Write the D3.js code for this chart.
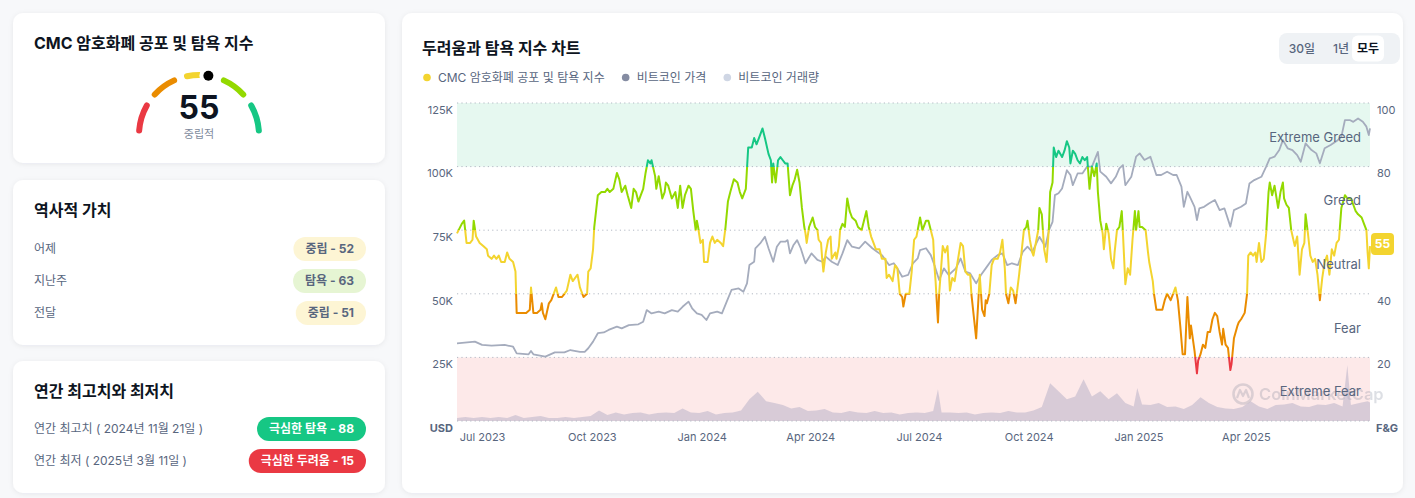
<!DOCTYPE html>
<html><head><meta charset="utf-8">
<script src="https://cdn.jsdelivr.net/npm/d3@7"></script>
<style>
html,body{margin:0;padding:0;background:#f7f8fa;}
svg{display:block;font-family:Inter,"Noto Sans CJK KR","Noto Sans",sans-serif;}
</style></head><body>
<svg id="c" width="1415" height="498"></svg>
<script>
// ---------- DATA ----------
const zoneNames = ["Extreme Fear","Fear","Neutral","Greed","Extreme Greed"];
const zoneBreaks = [0,20,40,60,80,100];
const zoneColors = ["#ea3943","#ea8c00","#f3d42f","#93d900","#16c784"];
const currentValue = 55;
const currentLabel = "중립적";
const historyLabels = ["어제","지난주","전달"];
const historyTexts = ["중립 - 52","탐욕 - 63","중립 - 51"];
const historyValues = [52,63,51];
const yearlyLabels = ["연간 최고치 ( 2024년 11월 21일 )","연간 최저 ( 2025년 3월 11일 )"];
const yearlyTexts = ["극심한 탐욕 - 88","극심한 두려움 - 15"];
const yearlyValues = [88,15];
const usdTicks = [25000,50000,75000,100000,125000];
const fgTicks = [20,40,80,100];   // 60 is hidden behind the current-value badge
const gridValues = [0,20,40,60,80,100];
const xTickDates = ["2023-07-01","2023-10-01","2024-01-01","2024-04-01","2024-07-01","2024-10-01","2025-01-01","2025-04-01"];
const legendItems = ["CMC 암호화폐 공포 및 탐욕 지수","비트코인 가격","비트코인 거래량"];
const rangeButtons = ["30일","1년","모두"];

// Fear & Greed index [date, value]
const fearGreed = [["2023-06-10",59],["2023-06-14",62],["2023-06-16",63],["2023-06-18",56],["2023-06-21",56],["2023-06-23",57],["2023-06-24",63],["2023-06-26",58],["2023-06-29",56],["2023-07-02",55],["2023-07-05",54],["2023-07-06",52],["2023-07-09",51],["2023-07-11",52],["2023-07-13",51],["2023-07-15",52],["2023-07-17",50],["2023-07-20",50],["2023-07-22",53],["2023-07-24",51],["2023-07-27",50],["2023-07-29",47],["2023-07-30",34],["2023-08-02",34],["2023-08-05",34],["2023-08-07",34],["2023-08-10",35],["2023-08-11",42],["2023-08-13",34],["2023-08-16",34],["2023-08-19",35],["2023-08-20",37],["2023-08-21",34],["2023-08-23",32],["2023-08-26",37],["2023-08-28",38],["2023-08-30",40],["2023-09-01",42],["2023-09-03",39],["2023-09-06",39],["2023-09-08",40],["2023-09-10",41],["2023-09-13",46],["2023-09-15",44],["2023-09-17",45],["2023-09-19",46],["2023-09-21",42],["2023-09-24",39],["2023-09-27",40],["2023-09-28",47],["2023-09-30",48],["2023-10-02",54],["2023-10-03",61],["2023-10-06",71],["2023-10-09",72],["2023-10-12",72],["2023-10-14",73],["2023-10-16",72],["2023-10-19",73],["2023-10-22",78],["2023-10-24",76],["2023-10-26",72],["2023-10-29",74],["2023-10-31",71],["2023-11-03",67],["2023-11-05",73],["2023-11-07",72],["2023-11-09",69],["2023-11-11",71],["2023-11-13",73],["2023-11-15",78],["2023-11-17",82],["2023-11-19",81],["2023-11-20",82],["2023-11-23",77],["2023-11-24",73],["2023-11-26",77],["2023-11-29",70],["2023-12-01",72],["2023-12-02",75],["2023-12-04",74],["2023-12-07",70],["2023-12-10",72],["2023-12-12",67],["2023-12-14",74],["2023-12-16",67],["2023-12-18",71],["2023-12-21",74],["2023-12-23",73],["2023-12-25",66],["2023-12-27",60],["2023-12-28",63],["2023-12-29",61],["2023-12-31",56],["2024-01-02",57],["2024-01-03",50],["2024-01-06",50],["2024-01-08",56],["2024-01-10",58],["2024-01-12",56],["2024-01-14",57],["2024-01-17",56],["2024-01-19",55],["2024-01-21",61],["2024-01-23",69],["2024-01-25",72],["2024-01-28",76],["2024-01-31",75],["2024-02-02",72],["2024-02-04",70],["2024-02-07",73],["2024-02-09",86],["2024-02-12",86],["2024-02-14",89],["2024-02-16",87],["2024-02-19",90],["2024-02-21",92],["2024-02-23",89],["2024-02-26",84],["2024-02-28",82],["2024-02-29",75],["2024-03-01",81],["2024-03-03",75],["2024-03-05",82],["2024-03-07",83],["2024-03-09",82],["2024-03-11",81],["2024-03-13",81],["2024-03-15",71],["2024-03-17",74],["2024-03-19",76],["2024-03-21",79],["2024-03-23",75],["2024-03-25",67],["2024-03-27",61],["2024-03-28",59],["2024-03-29",56],["2024-03-31",61],["2024-04-03",64],["2024-04-05",61],["2024-04-07",60],["2024-04-08",57],["2024-04-10",56],["2024-04-11",51],["2024-04-12",47],["2024-04-14",53],["2024-04-16",57],["2024-04-18",58],["2024-04-19",51],["2024-04-22",53],["2024-04-23",51],["2024-04-25",55],["2024-04-26",60],["2024-04-28",62],["2024-04-30",61],["2024-05-02",70],["2024-05-04",66],["2024-05-06",64],["2024-05-09",63],["2024-05-11",61],["2024-05-14",60],["2024-05-16",63],["2024-05-18",66],["2024-05-20",61],["2024-05-22",58],["2024-05-24",56],["2024-05-26",54],["2024-05-29",54],["2024-05-31",51],["2024-06-03",51],["2024-06-04",45],["2024-06-06",46],["2024-06-09",44],["2024-06-11",49],["2024-06-13",48],["2024-06-15",40],["2024-06-17",39],["2024-06-18",36],["2024-06-20",40],["2024-06-23",40],["2024-06-25",47],["2024-06-27",57],["2024-06-29",58],["2024-06-30",60],["2024-07-02",64],["2024-07-04",60],["2024-07-07",63],["2024-07-09",63],["2024-07-11",60],["2024-07-13",57],["2024-07-14",49],["2024-07-15",44],["2024-07-17",31],["2024-07-18",40],["2024-07-21",55],["2024-07-23",53],["2024-07-25",55],["2024-07-27",41],["2024-07-29",45],["2024-07-31",44],["2024-08-02",49],["2024-08-05",56],["2024-08-07",55],["2024-08-09",47],["2024-08-11",46],["2024-08-13",46],["2024-08-14",40],["2024-08-16",33],["2024-08-18",26],["2024-08-20",39],["2024-08-21",46],["2024-08-23",35],["2024-08-25",33],["2024-08-26",38],["2024-08-27",37],["2024-08-29",40],["2024-08-31",49],["2024-09-02",51],["2024-09-05",51],["2024-09-07",53],["2024-09-09",57],["2024-09-11",48],["2024-09-12",40],["2024-09-14",37],["2024-09-16",42],["2024-09-18",41],["2024-09-20",37],["2024-09-22",43],["2024-09-23",46],["2024-09-25",53],["2024-09-27",60],["2024-09-29",61],["2024-09-30",63],["2024-10-02",57],["2024-10-04",53],["2024-10-05",52],["2024-10-07",56],["2024-10-09",60],["2024-10-10",67],["2024-10-12",65],["2024-10-14",54],["2024-10-16",50],["2024-10-18",61],["2024-10-19",72],["2024-10-21",75],["2024-10-22",86],["2024-10-24",83],["2024-10-26",85],["2024-10-29",83],["2024-10-31",85],["2024-11-02",88],["2024-11-04",86],["2024-11-05",81],["2024-11-07",85],["2024-11-09",84],["2024-11-11",82],["2024-11-13",81],["2024-11-15",83],["2024-11-17",82],["2024-11-19",83],["2024-11-21",73],["2024-11-23",80],["2024-11-25",77],["2024-11-27",81],["2024-11-28",72],["2024-11-30",63],["2024-12-02",59],["2024-12-03",54],["2024-12-05",62],["2024-12-07",59],["2024-12-09",51],["2024-12-11",48],["2024-12-12",53],["2024-12-14",60],["2024-12-16",61],["2024-12-18",66],["2024-12-19",59],["2024-12-21",43],["2024-12-23",48],["2024-12-25",46],["2024-12-27",57],["2024-12-29",66],["2024-12-30",60],["2025-01-01",66],["2025-01-02",61],["2025-01-04",61],["2025-01-07",60],["2025-01-09",53],["2025-01-10",50],["2025-01-11",48],["2025-01-13",44],["2025-01-14",40],["2025-01-16",35],["2025-01-18",35],["2025-01-21",35],["2025-01-23",38],["2025-01-25",40],["2025-01-28",38],["2025-01-30",40],["2025-02-01",42],["2025-02-03",38],["2025-02-05",30],["2025-02-07",21],["2025-02-09",21],["2025-02-11",39],["2025-02-13",26],["2025-02-14",30],["2025-02-17",22],["2025-02-19",15],["2025-02-20",19],["2025-02-22",21],["2025-02-24",24],["2025-02-26",23],["2025-02-28",28],["2025-03-02",28],["2025-03-04",32],["2025-03-06",34],["2025-03-08",33],["2025-03-10",28],["2025-03-12",24],["2025-03-13",29],["2025-03-15",24],["2025-03-17",23],["2025-03-19",16],["2025-03-20",18],["2025-03-22",26],["2025-03-25",30],["2025-03-26",31],["2025-03-28",32],["2025-03-31",34],["2025-04-02",40],["2025-04-03",52],["2025-04-05",53],["2025-04-07",52],["2025-04-09",53],["2025-04-10",50],["2025-04-12",56],["2025-04-14",50],["2025-04-16",51],["2025-04-18",59],["2025-04-20",72],["2025-04-21",75],["2025-04-23",71],["2025-04-25",74],["2025-04-28",67],["2025-04-30",72],["2025-05-02",75],["2025-05-03",70],["2025-05-05",68],["2025-05-07",67],["2025-05-09",60],["2025-05-12",55],["2025-05-14",58],["2025-05-16",46],["2025-05-18",54],["2025-05-20",56],["2025-05-21",65],["2025-05-23",59],["2025-05-25",52],["2025-05-27",50],["2025-05-29",51],["2025-05-31",46],["2025-06-02",38],["2025-06-04",45],["2025-06-06",50],["2025-06-08",52],["2025-06-10",46],["2025-06-12",54],["2025-06-14",52],["2025-06-16",56],["2025-06-18",57],["2025-06-20",67],["2025-06-23",71],["2025-06-25",70],["2025-06-28",70],["2025-06-30",68],["2025-07-02",66],["2025-07-04",65],["2025-07-07",64],["2025-07-09",62],["2025-07-11",60],["2025-07-12",53],["2025-07-13",48],["2025-07-14",55]];

// Bitcoin price, thousands USD [date, value]
const btcPrice = [["2023-06-10",30.5],["2023-06-25",31.2],["2023-07-01",29.9],["2023-07-09",29.6],["2023-07-20",29.9],["2023-07-27",29.2],["2023-07-30",26.6],["2023-08-09",26.2],["2023-08-11",27.5],["2023-08-13",26.2],["2023-08-23",25.3],["2023-08-31",27.0],["2023-09-08",27.0],["2023-09-13",27.9],["2023-09-21",27.2],["2023-09-25",27.2],["2023-09-28",28.6],["2023-10-02",31.2],["2023-10-06",34.5],["2023-10-11",34.8],["2023-10-15",35.8],["2023-10-22",37.1],["2023-10-26",36.4],["2023-11-01",37.7],["2023-11-09",38.0],["2023-11-13",39.0],["2023-11-16",43.6],["2023-11-20",42.3],["2023-11-26",43.0],["2023-12-01",42.3],["2023-12-07",43.6],["2023-12-12",43.0],["2023-12-16",44.9],["2023-12-21",46.9],["2023-12-24",44.3],["2023-12-28",42.3],["2024-01-01",41.7],["2024-01-05",39.7],["2024-01-08",42.3],["2024-01-14",43.0],["2024-01-18",42.3],["2024-01-22",46.9],["2024-01-26",51.5],["2024-02-01",52.1],["2024-02-05",50.8],["2024-02-08",54.1],["2024-02-10",61.3],["2024-02-14",62.6],["2024-02-15",67.9],["2024-02-19",69.8],["2024-02-23",72.4],["2024-02-26",67.9],["2024-03-01",62.6],["2024-03-04",68.5],["2024-03-07",70.5],["2024-03-11",70.5],["2024-03-13",71.1],["2024-03-15",65.9],["2024-03-18",69.2],["2024-03-21",71.1],["2024-03-24",67.9],["2024-03-28",62.0],["2024-04-02",65.9],["2024-04-07",63.3],["2024-04-11",62.6],["2024-04-14",64.6],["2024-04-19",62.6],["2024-04-24",61.3],["2024-04-28",65.9],["2024-05-02",71.1],["2024-05-06",68.5],["2024-05-12",67.9],["2024-05-17",70.5],["2024-05-23",67.9],["2024-05-27",66.5],["2024-05-31",65.2],["2024-06-06",61.3],["2024-06-10",62.0],["2024-06-13",60.0],["2024-06-17",56.7],["2024-06-22",57.4],["2024-06-26",62.0],["2024-06-30",63.9],["2024-07-02",67.2],["2024-07-07",67.9],["2024-07-11",65.2],["2024-07-14",61.3],["2024-07-18",55.4],["2024-07-22",60.0],["2024-07-26",57.4],["2024-08-01",60.0],["2024-08-05",63.9],["2024-08-09",58.7],["2024-08-13",58.0],["2024-08-18",54.1],["2024-08-22",57.4],["2024-08-26",60.0],["2024-08-31",63.3],["2024-09-05",65.2],["2024-09-09",65.9],["2024-09-13",61.3],["2024-09-17",62.0],["2024-09-22",61.3],["2024-09-26",66.5],["2024-09-30",68.5],["2024-10-04",66.5],["2024-10-10",72.4],["2024-10-15",68.5],["2024-10-18",75.0],["2024-10-21",78.3],["2024-10-23",88.8],["2024-10-26",89.5],["2024-10-29",91.4],["2024-11-02",98.6],["2024-11-05",96.7],["2024-11-07",92.7],["2024-11-11",97.3],["2024-11-15",97.3],["2024-11-19",100.0],["2024-11-23",100.0],["2024-11-28",105.8],["2024-11-30",98.0],["2024-12-05",96.0],["2024-12-09",93.4],["2024-12-13",96.0],["2024-12-16",99.3],["2024-12-19",100.6],["2024-12-21",92.7],["2024-12-26",96.0],["2024-12-30",103.9],["2025-01-02",105.2],["2025-01-06",102.6],["2025-01-11",103.9],["2025-01-16",96.7],["2025-01-20",96.7],["2025-01-25",98.0],["2025-01-30",96.7],["2025-02-02",96.7],["2025-02-06",92.1],["2025-02-08",84.2],["2025-02-11",90.1],["2025-02-13",88.2],["2025-02-17",84.2],["2025-02-19",79.0],["2025-02-21",83.6],["2025-02-25",84.2],["2025-03-01",85.5],["2025-03-06",86.9],["2025-03-10",82.9],["2025-03-14",83.6],["2025-03-19",76.4],["2025-03-22",82.9],["2025-03-28",84.2],["2025-04-01",85.5],["2025-04-04",93.4],["2025-04-08",94.7],["2025-04-14",96.0],["2025-04-18",100.0],["2025-04-21",103.2],["2025-04-25",103.9],["2025-04-29",106.5],["2025-05-02",110.4],["2025-05-06",107.2],["2025-05-10",106.5],["2025-05-14",104.5],["2025-05-17",101.9],["2025-05-21",109.1],["2025-05-26",106.5],["2025-05-30",105.2],["2025-06-02",101.3],["2025-06-06",107.2],["2025-06-11",108.5],["2025-06-17",110.4],["2025-06-20",111.7],["2025-06-23",118.3],["2025-06-27",118.3],["2025-06-30",117.6],["2025-07-04",118.9],["2025-07-08",117.6],["2025-07-11",115.7],["2025-07-13",112.4],["2025-07-14",115.0]];

// Bitcoin volume, billions USD [date, value]
const btcVolume = [["2023-06-10",4.5],["2023-06-17",6],["2023-06-24",4.5],["2023-07-01",6],["2023-07-08",4.5],["2023-07-15",6],["2023-07-22",4.5],["2023-07-29",9],["2023-08-05",4.5],["2023-08-12",6],["2023-08-19",7.5],["2023-08-26",4.5],["2023-09-02",4.5],["2023-09-09",6],["2023-09-16",4.5],["2023-09-23",6],["2023-09-30",7.5],["2023-10-07",16],["2023-10-14",9],["2023-10-21",13],["2023-10-28",10],["2023-11-04",12],["2023-11-11",13],["2023-11-18",10],["2023-11-25",12],["2023-12-02",13],["2023-12-09",12],["2023-12-16",19],["2023-12-23",13],["2023-12-30",12],["2024-01-06",15],["2024-01-13",10],["2024-01-20",12],["2024-01-27",13],["2024-02-03",16],["2024-02-10",33],["2024-02-17",44],["2024-02-24",30],["2024-03-02",27],["2024-03-09",24],["2024-03-16",19],["2024-03-23",21],["2024-03-30",15],["2024-04-06",16],["2024-04-13",18],["2024-04-20",13],["2024-04-27",12],["2024-05-04",15],["2024-05-11",13],["2024-05-18",12],["2024-05-25",15],["2024-06-01",12],["2024-06-08",13],["2024-06-15",10],["2024-06-22",12],["2024-06-29",13],["2024-07-06",12],["2024-07-13",15],["2024-07-17",48],["2024-07-20",13],["2024-07-27",13],["2024-08-03",12],["2024-08-10",13],["2024-08-17",10],["2024-08-24",12],["2024-08-31",13],["2024-09-07",12],["2024-09-14",15],["2024-09-21",13],["2024-09-28",13],["2024-10-05",16],["2024-10-12",21],["2024-10-19",57],["2024-10-26",45],["2024-11-02",33],["2024-11-09",37],["2024-11-16",63],["2024-11-23",37],["2024-11-30",45],["2024-12-07",33],["2024-12-14",42],["2024-12-21",27],["2024-12-28",22],["2024-12-31",50],["2025-01-04",25],["2025-01-11",24],["2025-01-18",27],["2025-01-25",21],["2025-02-01",22],["2025-02-08",18],["2025-02-15",24],["2025-02-22",36],["2025-03-01",27],["2025-03-08",21],["2025-03-15",19],["2025-03-22",18],["2025-03-29",21],["2025-04-05",30],["2025-04-12",22],["2025-04-19",18],["2025-04-26",24],["2025-05-03",25],["2025-05-10",27],["2025-05-17",22],["2025-05-24",21],["2025-05-31",25],["2025-06-07",24],["2025-06-14",27],["2025-06-21",22],["2025-06-25",84],["2025-06-28",24],["2025-07-05",27],["2025-07-12",30],["2025-07-14",28]];

// ---------- DRAW ----------
const parse = d3.timeParse("%Y-%m-%d");
const svg = d3.select("#c");
const defs = svg.append("defs");
const TXT = "#58667e", DARK = "#0d1421", MUTE = "#808a9d";

defs.append("filter").attr("id","sh").attr("x","-5%").attr("y","-10%").attr("width","110%").attr("height","130%")
  .append("feDropShadow").attr("dx",0).attr("dy",1).attr("stdDeviation",2.5)
  .attr("flood-color","#1e2a44").attr("flood-opacity",0.07);

// cards
const cards = [[13,13,372,150],[13,180,372,165],[13,361,372,132],[402,13,1001,480]];
svg.append("g").selectAll("rect").data(cards).join("rect")
  .attr("x",d=>d[0]).attr("y",d=>d[1]).attr("width",d=>d[2]).attr("height",d=>d[3])
  .attr("rx",10).attr("fill","#fff").attr("filter","url(#sh)");

// ---- card 1: gauge ----
const c1 = svg.append("g");
c1.append("text").attr("x",34).attr("y",49).attr("font-size",16).attr("font-weight",700)
  .attr("fill",DARK).text("CMC 암호화폐 공포 및 탐욕 지수");
const gcx = 199, gcy = 135, gr = 60;
const ang = d3.scaleLinear().domain([0,100]).range([-Math.PI/2, Math.PI/2]);
const gArc = d3.arc().innerRadius(gr-3).outerRadius(gr+3).cornerRadius(3);
const gaugeSegs = zoneColors.map((c,i)=>({c, a:zoneBreaks[i]+(i===0?0.8:2.0), b:zoneBreaks[i+1]-(i===4?0.8:2.0)}));
const gg = c1.append("g").attr("transform",`translate(${gcx},${gcy})`);
gg.selectAll("path").data(gaugeSegs).join("path")
  .attr("d",d=>gArc({startAngle:ang(d.a),endAngle:ang(d.b)})).attr("fill",d=>d.c);
const da = ang(currentValue);
gg.append("circle").attr("cx",gr*Math.sin(da)).attr("cy",-gr*Math.cos(da)).attr("r",9).attr("fill","#fff");
gg.append("circle").attr("cx",gr*Math.sin(da)).attr("cy",-gr*Math.cos(da)).attr("r",5).attr("fill","#000");
gg.append("text").attr("y",-16).attr("text-anchor","middle").attr("font-size",32).attr("font-weight",700)
  .attr("fill",DARK).text(currentValue);
gg.append("text").attr("y",2.5).attr("text-anchor","middle").attr("font-size",11)
  .attr("fill",MUTE).text(currentLabel);

// badge helper
function badge(g, xRight, yc, text, bg, fg){
  const t = g.append("text").attr("y",yc+4.3).attr("font-size",12).attr("font-weight",700)
    .attr("fill",fg).attr("text-anchor","middle").text(text);
  const w = t.node().getComputedTextLength() + 24;
  g.insert("rect","text").attr("x",xRight-w).attr("y",yc-12).attr("width",w).attr("height",24)
    .attr("rx",12).attr("fill",bg);
  t.attr("x",xRight-w/2);
  t.raise();
}
const zoneOf = v => Math.min(4, Math.floor(v/20));
const softBg = ["#fde1e3","#fde9cf","#fdf5d4","#e6f5d3","#d4f4e7"];

// ---- card 2: history ----
const c2 = svg.append("g");
c2.append("text").attr("x",34).attr("y",216).attr("font-size",16).attr("font-weight",700)
  .attr("fill",DARK).text("역사적 가치");
historyLabels.forEach((lab,i)=>{
  const yc = 249 + i*32;
  const row = c2.append("g");
  row.append("text").attr("x",34).attr("y",yc+4).attr("font-size",12).attr("fill",TXT).text(lab);
  badge(row, 366, yc, historyTexts[i], softBg[zoneOf(historyValues[i])], TXT);
});

// ---- card 3: yearly ----
const c3 = svg.append("g");
c3.append("text").attr("x",34).attr("y",397).attr("font-size",16).attr("font-weight",700)
  .attr("fill",DARK).text("연간 최고치와 최저치");
yearlyLabels.forEach((lab,i)=>{
  const yc = 429 + i*32;
  const row = c3.append("g");
  row.append("text").attr("x",34).attr("y",yc+4).attr("font-size",12).attr("fill",TXT).text(lab);
  badge(row, 366, yc, yearlyTexts[i], zoneColors[zoneOf(yearlyValues[i])], "#fff");
});

// ---- chart card ----
const ch = svg.append("g");
ch.append("text").attr("x",422).attr("y",54).attr("font-size",16).attr("font-weight",700)
  .attr("fill",DARK).text("두려움과 탐욕 지수 차트");

// legend
const legColors = ["#f3d42f","#858ca2","#cfd6e4"];
let lx = 427;
legendItems.forEach((t,i)=>{
  ch.append("circle").attr("cx",lx).attr("cy",77.5).attr("r",3.8).attr("fill",legColors[i]);
  const tt = ch.append("text").attr("x",lx+11).attr("y",81.8).attr("font-size",12).attr("fill",TXT).text(t);
  lx = lx + 11 + tt.node().getComputedTextLength() + 21;
});

// range buttons
ch.append("rect").attr("x",1279).attr("y",33).attr("width",121).attr("height",31).attr("rx",8).attr("fill","#eff2f5");
const btnX = [1302,1341,1368];
rangeButtons.forEach((t,i)=>{
  if(i===rangeButtons.length-1){
    ch.append("rect").attr("x",btnX[i]-16).attr("y",35.5).attr("width",32).attr("height",26).attr("rx",6).attr("fill","#fff");
  }
  ch.append("text").attr("x",btnX[i]).attr("y",53).attr("text-anchor","middle").attr("font-size",12)
    .attr("font-weight",i===rangeButtons.length-1?700:500).attr("fill",i===rangeButtons.length-1?DARK:TXT).text(t);
});

// scales
const X0 = 457, X1 = 1370, Y0 = 421, Y1 = 103;
const x = d3.scaleTime().domain([parse(fearGreed[0][0]), parse(fearGreed[fearGreed.length-1][0])]).range([X0,X1]);
const yFG = d3.scaleLinear().domain([0,100]).range([Y0,Y1]);
const yUSD = d3.scaleLinear().domain([0,125000]).range([Y0,Y1]);
const yVol = d3.scaleLinear().domain([0,480]).range([Y0,Y1]);

const plot = ch.append("g");
// zone bands
plot.append("rect").attr("x",X0).attr("width",X1-X0).attr("y",yFG(100)).attr("height",yFG(80)-yFG(100)).attr("fill","#e6f8f0");
plot.append("rect").attr("x",X0).attr("width",X1-X0).attr("y",yFG(20)).attr("height",yFG(0)-yFG(20)).attr("fill","#fde9e9");

// watermark
const wm = plot.append("g").attr("opacity",0.2);
wm.append("circle").attr("cx",1243).attr("cy",394).attr("r",9.5).attr("fill","none").attr("stroke","#58667e").attr("stroke-width",2.6);
wm.append("path").attr("d","M1237,398 L1240,390 L1243,396 L1246,390 L1249,398").attr("fill","none").attr("stroke","#58667e").attr("stroke-width",2.2).attr("stroke-linejoin","round");
wm.append("text").attr("x",1259).attr("y",400).attr("font-size",16.5).attr("font-weight",600).attr("fill","#58667e").text("CoinMarketCap");

// volume area
plot.append("path").datum(btcVolume)
  .attr("d", d3.area().x(d=>x(parse(d[0]))).y0(Y0).y1(d=>yVol(d[1])))
  .attr("fill","#b9b3c9").attr("opacity",0.55);

// grid
plot.append("g").selectAll("line").data(gridValues).join("line")
  .attr("x1",X0).attr("x2",X1).attr("y1",d=>yFG(d)).attr("y2",d=>yFG(d))
  .attr("stroke","#b3b9c4").attr("stroke-width",1).attr("stroke-dasharray","1.2,3.2");

// btc price line
plot.append("path").datum(btcPrice)
  .attr("d", d3.line().x(d=>x(parse(d[0]))).y(d=>yUSD(d[1]*1000)))
  .attr("fill","none").attr("stroke","#a5acbd").attr("stroke-width",1.8).attr("stroke-linejoin","round");

// fear & greed gradient line
const grad = defs.append("linearGradient").attr("id","fgGrad").attr("gradientUnits","userSpaceOnUse")
  .attr("x1",0).attr("x2",0).attr("y1",yFG(0)).attr("y2",yFG(100));
zoneColors.forEach((c,i)=>{
  grad.append("stop").attr("offset",zoneBreaks[i]/100).attr("stop-color",c);
  grad.append("stop").attr("offset",zoneBreaks[i+1]/100).attr("stop-color",c);
});
plot.append("path").datum(fearGreed)
  .attr("d", d3.line().x(d=>x(parse(d[0]))).y(d=>yFG(d[1])))
  .attr("fill","none").attr("stroke","url(#fgGrad)").attr("stroke-width",2).attr("stroke-linejoin","round");

// zone labels
plot.append("g").selectAll("text").data(zoneNames).join("text")
  .attr("x",X1-9).attr("y",(d,i)=>yFG((zoneBreaks[i]+zoneBreaks[i+1])/2)+7)
  .attr("text-anchor","end").attr("font-size",13).attr("fill",TXT).text(d=>d);

// axes
const axL = ch.append("g").attr("transform",`translate(${X0},0)`)
  .call(d3.axisLeft(yUSD).tickValues(usdTicks).tickFormat(d=>(d/1000)+"K").tickSize(0).tickPadding(4));
const axR = ch.append("g").attr("transform",`translate(${X1},0)`)
  .call(d3.axisRight(yFG).tickValues(fgTicks).tickSize(0).tickPadding(7));
const axB = ch.append("g").attr("transform",`translate(0,${Y0})`)
  .call(d3.axisBottom(x).tickValues(xTickDates.map(parse)).tickFormat(d3.timeFormat("%b %Y")).tickSize(0).tickPadding(12));
[axL,axR,axB].forEach(a=>{
  a.select(".domain").remove();
  a.selectAll("text").attr("font-family",'Inter,"Noto Sans CJK KR",sans-serif').attr("font-size",11).attr("fill",TXT);
});
axL.selectAll("text").attr("dy","0.93em");
axR.selectAll("text").attr("dy","0.93em");
ch.append("text").attr("x",X0-4).attr("y",Y0+10.5).attr("text-anchor","end").attr("font-size",11).attr("font-weight",700).attr("fill",TXT).text("USD");
ch.append("text").attr("x",X1+6).attr("y",Y0+10.5).attr("font-size",11).attr("font-weight",700).attr("fill",TXT).text("F&G");

// current value badge
const lastV = fearGreed[fearGreed.length-1][1];
const bg = ch.append("g").attr("transform",`translate(${X1+1},${yFG(lastV)-2})`);
bg.append("rect").attr("x",0).attr("y",-11).attr("width",23).attr("height",22).attr("rx",4).attr("fill",zoneColors[zoneOf(lastV)]);
bg.append("text").attr("x",11.5).attr("y",4.3).attr("text-anchor","middle").attr("font-size",12).attr("font-weight",700).attr("fill","#fff").text(lastV);
</script>
</body></html>
